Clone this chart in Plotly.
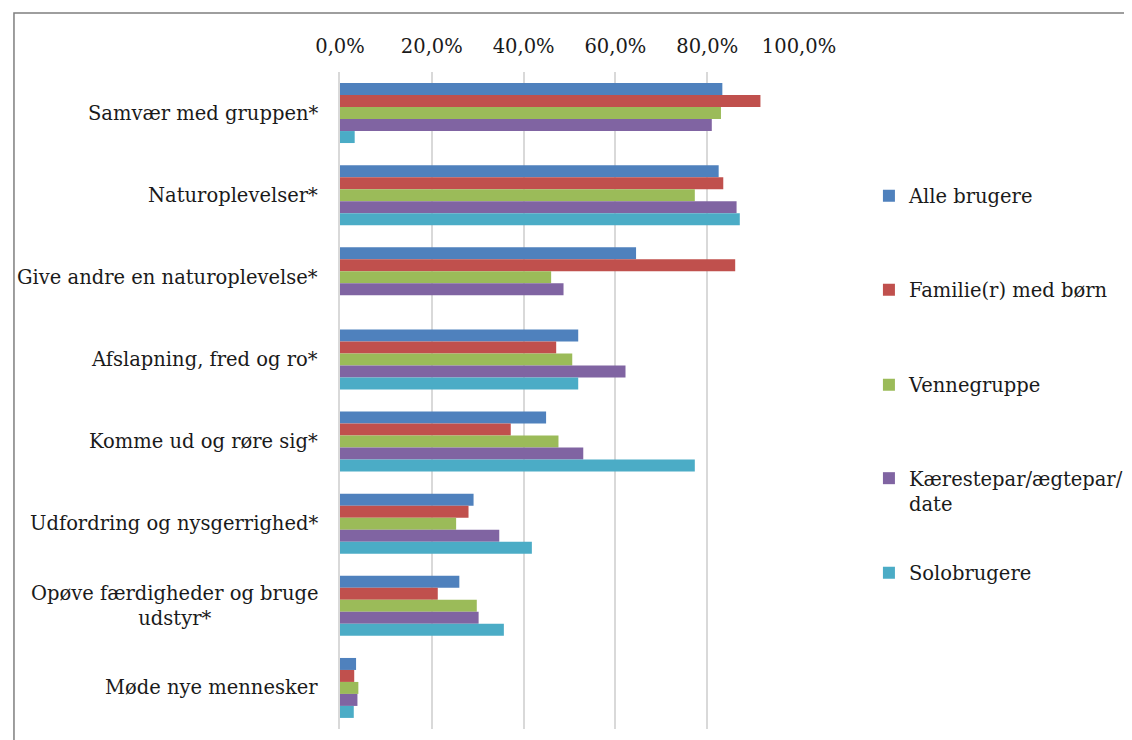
import plotly.graph_objects as go

categories = [
    "Samvær med gruppen*",
    "Naturoplevelser*",
    "Give andre en naturoplevelse*",
    "Afslapning, fred og ro*",
    "Komme ud og røre sig*",
    "Udfordring og nysgerrighed*",
    "Opøve færdigheder og bruge<br>udstyr*",
    "Møde nye mennesker",
]

series_names = [
    "Alle brugere",
    "Familie(r) med børn",
    "Vennegruppe",
    "Kærestepar/ægtepar/<br>date",
    "Solobrugere",
]

alle_brugere = [0.833, 0.825, 0.645, 0.519, 0.449, 0.291, 0.260, 0.035]
familie_med_boern = [0.916, 0.835, 0.861, 0.471, 0.372, 0.280, 0.213, 0.031]
vennegruppe = [0.830, 0.773, 0.460, 0.506, 0.476, 0.253, 0.298, 0.040]
kaerestepar = [0.810, 0.864, 0.487, 0.622, 0.530, 0.347, 0.302, 0.038]
solobrugere = [0.032, 0.871, None, 0.519, 0.773, 0.418, 0.357, 0.030]

series_values = [alle_brugere, familie_med_boern, vennegruppe, kaerestepar, solobrugere]
colors = ["#4F81BD", "#C0504D", "#9BBB59", "#8064A2", "#4BACC6"]

tick_vals = [0, 0.2, 0.4, 0.6, 0.8, 1.0]

FONT = "DejaVu Serif"
FS = 19.5

# page has an 8px body margin; figure coordinates = page coordinates - 8
W, H = 1132, 740
L, R, T, B = 332, 798, 64, 721
pw, ph = R - L, B - T


def px_x(x):
    return (x - L) / pw


def px_y(y):
    return (B - y) / ph


fig = go.Figure()
legend_ids = ["legend", "legend2", "legend3", "legend4", "legend5"]
for name, vals, col, lid in zip(series_names, series_values, colors, legend_ids):
    fig.add_trace(go.Bar(
        y=categories, x=vals, name=name, orientation="h",
        marker=dict(color=col, line=dict(width=0)),
        legend=lid, showlegend=True,
    ))

legend_centers = [188, 282, 377, 483, 565]
layout_legends = {}
for lid, cy in zip(legend_ids, legend_centers):
    layout_legends[lid] = dict(
        x=px_x(869), xanchor="left", y=px_y(cy), yanchor="middle",
        font=dict(family=FONT, size=FS, color="#1a1a1a"),
        bgcolor="rgba(0,0,0,0)", valign="top", visible=True,
    )

annotations = []
for c in categories:
    annotations.append(dict(
        x=0, xref="paper", y=c, yref="y", text=c, showarrow=False,
        xanchor="right", yanchor="middle", xshift=-20, align="center",
        font=dict(family=FONT, size=FS, color="#1a1a1a"),
    ))

fig.update_layout(
    width=W, height=H,
    showlegend=True,
    margin=dict(l=L, r=W - R, t=T, b=H - B, pad=0),
    paper_bgcolor="white", plot_bgcolor="white",
    barmode="group", bargap=0.27, bargroupgap=0,
    separators=",.",
    font=dict(family=FONT, size=FS, color="#1a1a1a"),
    annotations=annotations,
    shapes=[dict(
        type="rect", xref="paper", yref="paper",
        x0=px_x(1), x1=px_x(1140), y0=px_y(760), y1=px_y(5),
        line=dict(color="#7f7f7f", width=1.5), fillcolor="rgba(0,0,0,0)",
        layer="below",
    )],
    xaxis=dict(
        side="top", range=[0, 1.0], tickvals=tick_vals, tickformat=".1%",
        showgrid=True, gridcolor="#D9D9D9", gridwidth=2,
        zeroline=False, showline=False, ticks="",
        ticklabelstandoff=14,
        tickfont=dict(family=FONT, size=FS, color="#1a1a1a"),
    ),
    yaxis=dict(
        autorange="reversed", showticklabels=False, ticks="",
        showgrid=False, zeroline=False,
        showline=True, linecolor="#D9D9D9", linewidth=2,
    ),
    **layout_legends,
)

fig.write_html("out.html")
